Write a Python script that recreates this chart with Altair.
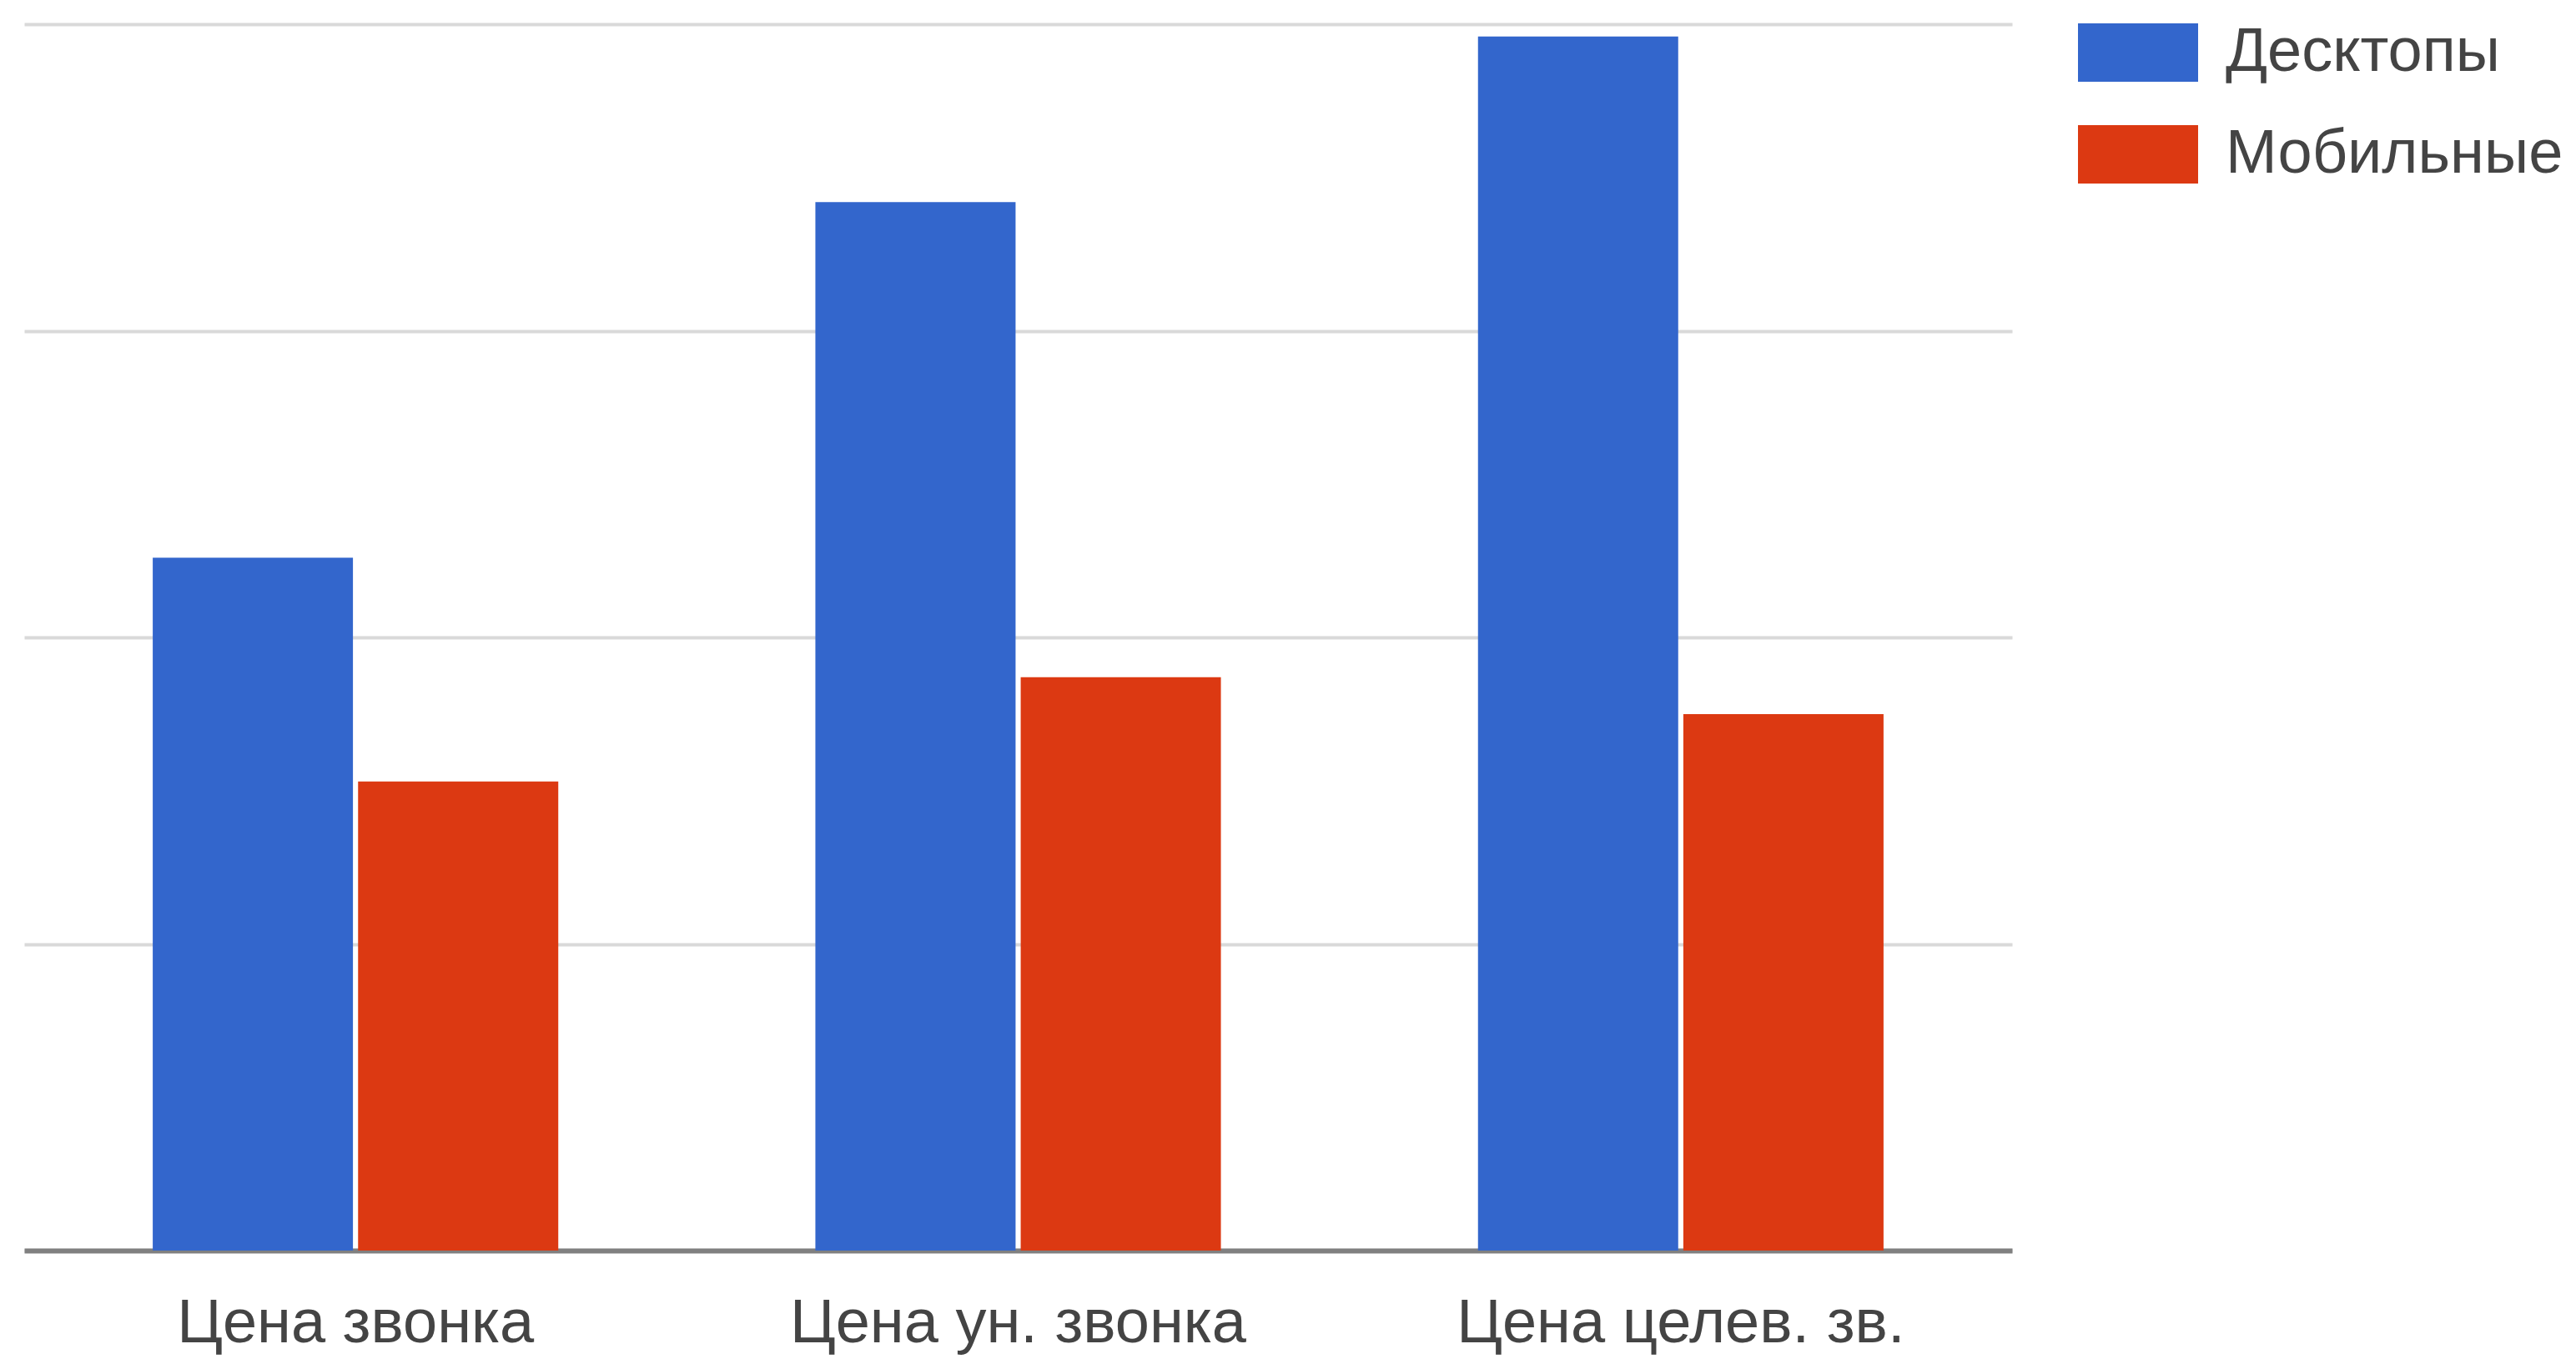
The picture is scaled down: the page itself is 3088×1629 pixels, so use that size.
import altair as alt
import pandas as pd

categories = ["Цена звонка", "Цена ун. звонка", "Цена целев. зв."]
series = ["Десктопы", "Мобильные"]
desktop = [2.26, 3.42, 3.96]
mobile = [1.53, 1.87, 1.75]
colors = ["#3366CC", "#DC3912"]
grid_values = [0, 1, 2, 3, 4]

rows = []
for c, d, m in zip(categories, desktop, mobile):
    rows.append({"cat": c, "series": series[0], "value": d})
    rows.append({"cat": c, "series": series[1], "value": m})
df = pd.DataFrame(rows)

FONT = "Liberation Sans"
FS = 74

chart = alt.Chart(df).mark_bar().encode(
    x=alt.X("cat:N", sort=categories, title=None,
            scale=alt.Scale(paddingInner=0.388, paddingOuter=0.194),
            axis=alt.Axis(labelAngle=0, labelFontSize=FS, labelFont=FONT,
                          labelColor="#444444", labelPadding=51, labelLimit=0,
                          ticks=False, domain=True, domainColor="#808080",
                          domainWidth=6, grid=False)),
    xOffset=alt.XOffset("series:N", sort=series,
                        scale=alt.Scale(paddingInner=0.025, paddingOuter=0)),
    y=alt.Y("value:Q", title=None,
            scale=alt.Scale(domain=[0, 4], nice=False),
            axis=alt.Axis(labels=False, ticks=False, domain=False,
                          values=grid_values, labelOverlap=False,
                          grid=True, gridColor="#d9d9d9", gridWidth=4)),
    color=alt.Color("series:N", sort=series,
                    scale=alt.Scale(domain=series, range=colors),
                    legend=alt.Legend(title=None, orient="none",
                                      legendX=2462, legendY=-38,
                                      symbolType="M-1,-0.486H1V0.486H-1Z",
                                      symbolSize=20736, symbolStrokeWidth=0,
                                      labelFontSize=FS, labelFont=FONT,
                                      labelColor="#444444", labelOffset=33,
                                      labelLimit=0,
                                      rowPadding=13, padding=0)),
).properties(
    width=2383, height=1470,
    background="white",
    padding={"left": 29, "top": 29, "right": 676, "bottom": 129},
    autosize=alt.AutoSizeParams(type="none"),
).configure_view(stroke="transparent", strokeWidth=0)

chart.save("out.html", embed_options={"renderer": "svg", "actions": False})
